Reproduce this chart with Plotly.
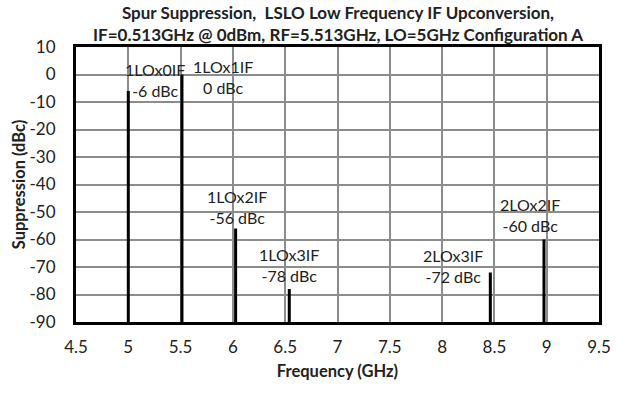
import plotly.graph_objects as go

# Spur products: name, frequency (GHz), level (dBc)
spur_names = ["1LOx0IF", "1LOx1IF", "1LOx2IF", "1LOx3IF", "2LOx3IF", "2LOx2IF"]
spur_freqs = [5.0, 5.513, 6.026, 6.539, 8.461, 8.974]
spur_levels = [-6, 0, -56, -78, -72, -60]

x_ticks = [4.5, 5, 5.5, 6, 6.5, 7, 7.5, 8, 8.5, 9, 9.5]
y_ticks = [10, 0, -10, -20, -30, -40, -50, -60, -70, -80, -90]

FLOOR = -90
# label offsets in pixels relative to the top of each spur line
label_shift = [(27, 11), (41, -2), (1, 22), (0, 24), (-37, 7), (-14, 25)]

FONT = "Lato"
TXT = "#222222"
GRID = "#8c8c8c"

xs, ys = [], []
for f, v in zip(spur_freqs, spur_levels):
    xs += [f, f, None]
    ys += [FLOOR, v, None]

fig = go.Figure()

fig.add_trace(go.Scatter(x=xs, y=ys, mode="lines",
                         line=dict(color="black", width=3),
                         showlegend=False, hoverinfo="skip"))

for name, f, v, (dx, dy) in zip(spur_names, spur_freqs, spur_levels, label_shift):
    fig.add_annotation(x=f, y=v, text=f"{name}<br>{v} dBc", showarrow=False,
                       xanchor="center", yanchor="middle", xshift=dx, yshift=dy,
                       font=dict(family=FONT, size=16, color=TXT))

# two-line chart title above the plot area
fig.add_annotation(xref="paper", yref="paper", x=0.5, y=1, xanchor="center", yanchor="bottom",
                   yshift=0, showarrow=False,
                   text="<b>Spur Suppression,  LSLO Low Frequency IF Upconversion,<br>"
                        "IF=0.513GHz @ 0dBm, RF=5.513GHz, LO=5GHz Configuration A</b>",
                   font=dict(family=FONT, size=17, color=TXT))

fig.update_layout(
    width=623, height=393,
    margin=dict(l=76, r=15, t=47, b=71),
    paper_bgcolor="white", plot_bgcolor="white",
    font=dict(family=FONT, color=TXT),
)
fig.update_xaxes(range=[4.5, 9.5], tickvals=x_ticks, ticktext=[f"{t:g}" for t in x_ticks],
                 showgrid=True, gridcolor=GRID, gridwidth=1.5,
                 showline=True, linecolor="black", linewidth=3, mirror=True,
                 zeroline=False, ticks="", ticklabelstandoff=8,
                 tickfont=dict(size=17, family=FONT, color=TXT),
                 title=dict(text="<b>Frequency (GHz)</b>", font=dict(size=16.5, family=FONT, color=TXT),
                            standoff=10))
fig.update_yaxes(range=[-90, 10], tickvals=y_ticks, ticktext=[str(t) for t in y_ticks],
                 showgrid=True, gridcolor=GRID, gridwidth=1.5,
                 showline=True, linecolor="black", linewidth=3, mirror=True,
                 zeroline=False, ticks="", ticklabelstandoff=14,
                 tickfont=dict(size=17, family=FONT, color=TXT),
                 title=dict(text="<b>Suppression (dBc)</b>", font=dict(size=16.5, family=FONT, color=TXT),
                            standoff=0))

fig.write_html("out.html")
